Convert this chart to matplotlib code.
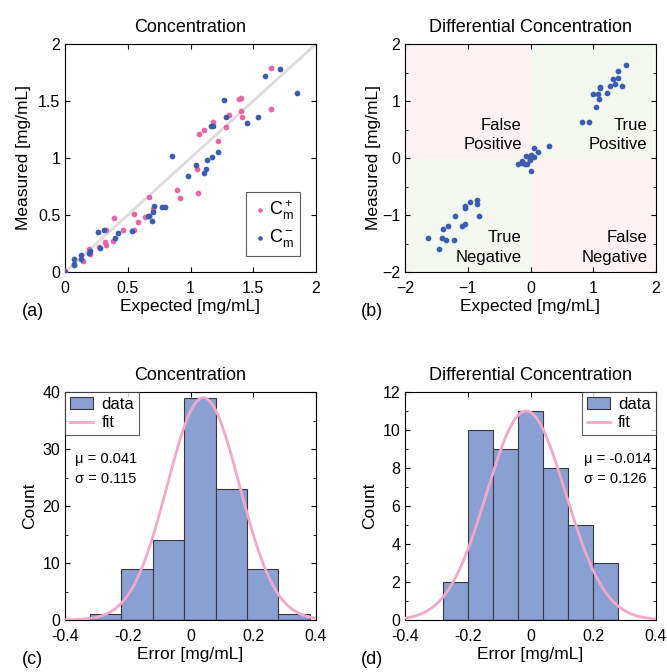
import matplotlib
matplotlib.use("Agg")
import matplotlib.pyplot as plt
import numpy as np
from matplotlib.patches import Rectangle
from matplotlib.ticker import MultipleLocator

plt.rcParams['font.family'] = ['Liberation Sans', 'DejaVu Sans']
plt.rcParams['font.size'] = 11.5
plt.rcParams['xtick.direction'] = 'in'
plt.rcParams['ytick.direction'] = 'in'
plt.rcParams['xtick.top'] = True
plt.rcParams['ytick.right'] = True
plt.rcParams['xtick.major.pad'] = 6.5
plt.rcParams['axes.linewidth'] = 0.8

# (a) concentration, C+ and C-
pos_exp = [0.0, 0.14, 0.19, 0.20, 0.27, 0.32, 0.33, 0.33, 0.38, 0.39, 0.46, 0.55, 0.55, 0.58,
           0.64, 0.67, 0.70, 0.89, 0.92, 1.05, 1.06, 1.07, 1.11, 1.18, 1.22, 1.28, 1.31, 1.39,
           1.40, 1.40, 1.41, 1.64, 1.64]
pos_meas = [0.01, 0.10, 0.20, 0.16, 0.22, 0.26, 0.24, 0.37, 0.27, 0.47, 0.37, 0.51, 0.37, 0.44,
            0.48, 0.66, 0.55, 0.72, 0.65, 0.90, 0.69, 1.21, 1.25, 1.32, 1.15, 1.27, 1.38, 1.52,
            1.53, 1.41, 1.36, 1.79, 1.43]
neg_exp = [0.0, 0.07, 0.07, 0.07, 0.13, 0.13, 0.19, 0.20, 0.26, 0.28, 0.31, 0.40, 0.42, 0.53,
           0.66, 0.67, 0.69, 0.70, 0.71, 0.77, 0.80, 0.85, 0.98, 1.04, 1.11, 1.12, 1.13, 1.16,
           1.18, 1.17, 1.22, 1.27, 1.28, 1.45, 1.54, 1.59, 1.71, 1.85]
neg_meas = [0.0, 0.07, 0.11, 0.06, 0.15, 0.11, 0.17, 0.18, 0.35, 0.21, 0.37, 0.30, 0.34, 0.36,
            0.49, 0.49, 0.45, 0.53, 0.58, 0.57, 0.57, 1.02, 0.84, 0.94, 0.87, 0.90, 0.98, 1.28,
            1.28, 1.01, 1.05, 1.51, 1.36, 1.31, 1.36, 1.72, 1.78, 1.57]

# (b) differential concentration
diff_exp = [1.52, 1.40, 1.40, 1.31, 1.35, 1.27, 1.46, 1.11, 1.11, 1.22, 1.00, 1.08, 1.09, 1.05,
            0.82, 0.93, 0.29, 0.05, 0.12, 0.06, 0.00, -0.07, -0.01, -0.20, -0.13, -0.09, -0.05,
            -0.01, 0.00, -0.13, -0.86, -0.86, -0.96, -1.05, -1.04, -0.82, -1.20, -1.31, -1.04,
            -1.09, -1.40, -1.64, -1.41, -1.35, -1.22, -1.46]
diff_meas = [1.64, 1.53, 1.41, 1.38, 1.29, 1.27, 1.26, 1.25, 1.22, 1.14, 1.12, 1.13, 1.03, 0.89,
             0.64, 0.64, 0.21, 0.18, 0.10, 0.02, 0.06, 0.04, -0.04, -0.11, -0.08, -0.10, -0.10,
             -0.01, -0.23, -0.05, -0.74, -0.81, -0.78, -0.85, -0.87, -1.01, -1.02, -1.19, -1.16,
             -1.19, -1.25, -1.40, -1.40, -1.44, -1.44, -1.59]

# (c) error histogram, concentration
c_edges = [-0.32, -0.22, -0.12, -0.02, 0.08, 0.18, 0.28, 0.38]
c_counts = [1, 9, 14, 39, 23, 9, 1]
c_mu, c_sigma, c_peak = 0.041, 0.115, 39.0

# (d) error histogram, differential
d_edges = [-0.28, -0.20, -0.12, -0.04, 0.04, 0.12, 0.20, 0.28]
d_counts = [2, 10, 9, 11, 8, 5, 3]
d_mu, d_sigma, d_peak = -0.014, 0.126, 11.0

pink = '#ec64a6'
blue = '#3c5caf'
bar_col = '#8a9fd2'
fit_col = '#f4a8c9'

fig = plt.figure(figsize=(6.67, 6.72), dpi=100)
W, H = 667.0, 672.0


def add_ax(l, t, r, b):
    return fig.add_axes([l / W, 1 - b / H, (r - l) / W, (b - t) / H])


ax_a = add_ax(65, 44, 316, 272)
ax_b = add_ax(405, 44, 656, 272)
ax_c = add_ax(65, 392, 316, 620)
ax_d = add_ax(405, 392, 656, 620)

# ---- (a)
ax_a.plot([0, 2], [0, 2], color='#dcdcdc', lw=2, zorder=1)
ax_a.scatter(pos_exp, pos_meas, s=17, color=pink, label=r'$\mathregular{C_m^+}$', zorder=3, lw=0)
ax_a.scatter(neg_exp, neg_meas, s=17, color=blue, label=r'$\mathregular{C_m^-}$', zorder=3, lw=0)
ax_a.set_xlim(0, 2)
ax_a.set_ylim(0, 2)
ax_a.set_xticks([0, 0.5, 1, 1.5, 2])
ax_a.set_yticks([0, 0.5, 1, 1.5, 2])
ax_a.set_xticklabels(['0', '0.5', '1', '1.5', '2'])
ax_a.set_yticklabels(['0', '0.5', '1', '1.5', '2'])
leg = ax_a.legend(loc='lower right', fontsize=13, handletextpad=0.1, handlelength=0.8,
                  markerscale=0.8, fancybox=False, edgecolor='#333333', borderpad=0.35,
                  labelspacing=0.3, borderaxespad=0.9)
leg.get_frame().set_linewidth(0.8)
ax_a.set_title('Concentration', fontsize=13, pad=9)
ax_a.set_xlabel('Expected [mg/mL]', fontsize=12.5, labelpad=2)
ax_a.set_ylabel('Measured [mg/mL]', fontsize=12.5, labelpad=5)

# ---- (b)
ax_b.add_patch(Rectangle((-2, 0), 2, 2, color='#fdf2f3', zorder=0, lw=0))
ax_b.add_patch(Rectangle((0, 0), 2, 2, color='#f2f8ef', zorder=0, lw=0))
ax_b.add_patch(Rectangle((-2, -2), 2, 2, color='#f2f8ef', zorder=0, lw=0))
ax_b.add_patch(Rectangle((0, -2), 2, 2, color='#fdf2f3', zorder=0, lw=0))
ax_b.scatter(diff_exp, diff_meas, s=17, color=blue, zorder=3, lw=0)
ax_b.set_xlim(-2, 2)
ax_b.set_ylim(-2, 2)
ax_b.set_xticks([-2, -1, 0, 1, 2])
ax_b.set_yticks([-2, -1, 0, 1, 2])
ax_b.yaxis.set_minor_locator(MultipleLocator(0.5))
ax_b.tick_params(which='minor', direction='in', right=True)
txt_kw = dict(fontsize=12, ha='right', va='center', linespacing=1.35, zorder=4)
ax_b.text(-0.14, 0.40, 'False\nPositive', **txt_kw)
ax_b.text(1.86, 0.40, 'True\nPositive', **txt_kw)
ax_b.text(-0.14, -1.57, 'True\nNegative', **txt_kw)
ax_b.text(1.86, -1.57, 'False\nNegative', **txt_kw)
ax_b.set_title('Differential Concentration', fontsize=13, pad=9)
ax_b.set_xlabel('Expected [mg/mL]', fontsize=12.5, labelpad=2)
ax_b.set_ylabel('Measured [mg/mL]', fontsize=12.5, labelpad=1)


# ---- (c), (d)
def hist_panel(ax, edges, counts, mu, sigma, peak, ymax, yticks, leg_loc, txt_xy, title):
    edges = np.array(edges)
    bars = ax.bar(edges[:-1], counts, width=np.diff(edges), align='edge', color=bar_col,
                  edgecolor='#3a3a3a', lw=0.8, zorder=2)
    xs = np.linspace(-0.4, 0.4, 300)
    fit, = ax.plot(xs, peak * np.exp(-0.5 * ((xs - mu) / sigma) ** 2), color=fit_col, lw=2,
                   zorder=3)
    ax.plot([edges[0], edges[-1]], [0, 0], color='#2b4aa0', lw=1, zorder=4)
    ax.set_xlim(-0.4, 0.4)
    ax.set_ylim(0, ymax)
    ax.set_xticks([-0.4, -0.2, 0, 0.2, 0.4])
    ax.set_xticklabels(['-0.4', '-0.2', '0', '0.2', '0.4'])
    ax.set_yticks(yticks)
    ax.yaxis.set_minor_locator(MultipleLocator(yticks[1] / 2.0))
    ax.tick_params(which='minor', direction='in', right=True)
    lg = ax.legend([bars, fit], ['data', 'fit'], loc=leg_loc, fontsize=12, fancybox=False,
                   edgecolor='#333333', borderaxespad=0.0, borderpad=0.3, labelspacing=0.2,
                   handlelength=1.4, handletextpad=0.5, handleheight=0.7)
    lg.get_frame().set_linewidth(0.8)
    ax.text(txt_xy[0], txt_xy[1], 'μ = %g\nσ = %g' % (mu, sigma), transform=ax.transAxes,
            fontsize=10.5, ha='left', va='top', linespacing=1.5)
    ax.set_title(title, fontsize=13, pad=9)
    ax.set_xlabel('Error [mg/mL]', fontsize=12.5, labelpad=2)
    ax.set_ylabel('Count', fontsize=12.5, labelpad=4)


hist_panel(ax_c, c_edges, c_counts, c_mu, c_sigma, c_peak, 40, [0, 10, 20, 30, 40],
           'upper left', (0.04, 0.735), 'Concentration')
hist_panel(ax_d, d_edges, d_counts, d_mu, d_sigma, d_peak, 12, [0, 2, 4, 6, 8, 10, 12],
           'upper right', (0.715, 0.735), 'Differential Concentration')

for lab, x, y in [('(a)', 22, 312), ('(b)', 361, 312), ('(c)', 22, 660), ('(d)', 361, 660)]:
    fig.text(x / W, 1 - y / H, lab, fontsize=13, ha='left', va='center')

fig.savefig('out.png', dpi=100)
